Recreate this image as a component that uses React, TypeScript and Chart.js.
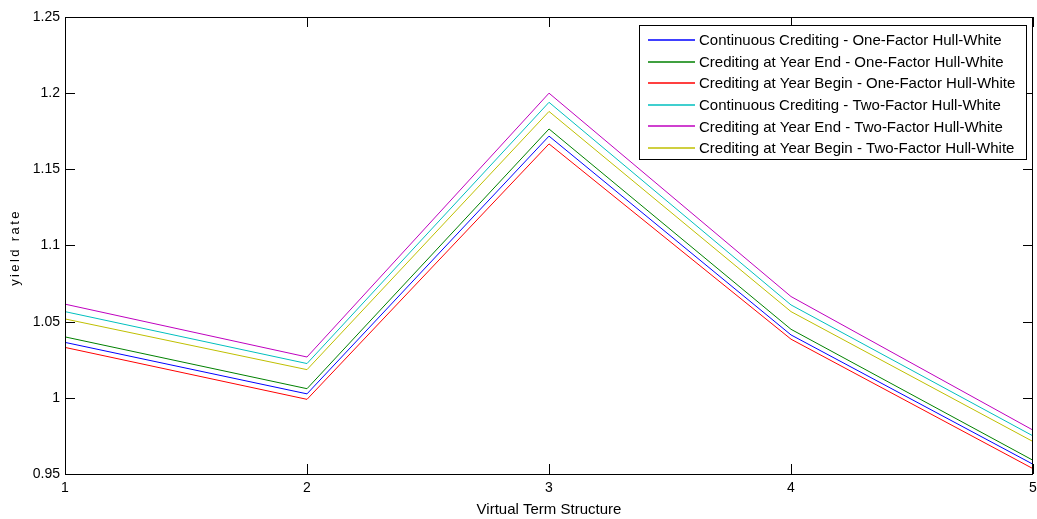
import React, { useEffect, useRef } from 'react';
import { Chart, registerables, Plugin } from 'chart.js';

Chart.register(...registerables);

const termPoints = [1, 2, 3, 4, 5];
const yTicks = [0.95, 1, 1.05, 1.1, 1.15, 1.2, 1.25];

const contOneFactor = [1.0364, 1.0026, 1.1718, 1.0413, 0.9564];
const endOneFactor = [1.040, 1.006, 1.1765, 1.045, 0.959];
const beginOneFactor = [1.0331, 0.999, 1.1667, 1.0385, 0.9535];
const contTwoFactor = [1.0566, 1.0225, 1.194, 1.061, 0.975];
const endTwoFactor = [1.0615, 1.0268, 1.2, 1.0665, 0.9788];
const beginTwoFactor = [1.0518, 1.0185, 1.188, 1.0566, 0.9713];

const seriesNames = [
    'Continuous Crediting - One-Factor Hull-White',
    'Crediting at Year End - One-Factor Hull-White',
    'Crediting at Year Begin - One-Factor Hull-White',
    'Continuous Crediting - Two-Factor Hull-White',
    'Crediting at Year End - Two-Factor Hull-White',
    'Crediting at Year Begin - Two-Factor Hull-White',
];
const seriesValues = [contOneFactor, endOneFactor, beginOneFactor, contTwoFactor, endTwoFactor, beginTwoFactor];
const seriesColors = ['#0000ff', '#008000', '#ff0000', '#00bfbf', '#bf00bf', '#bfbf00'];

const FONT = '"Liberation Sans", Arial, sans-serif';

// matlab style box with inward ticks
const boxPlugin: Plugin<'line'> = {
    id: 'matlabBox',
    afterDatasetsDraw(chart) {
        const { ctx, chartArea: a } = chart;
        const xs = chart.scales.x;
        const ys = chart.scales.y;
        ctx.save();
        ctx.strokeStyle = '#000';
        ctx.lineWidth = 1;
        ctx.strokeRect(Math.round(a.left) + 0.5, Math.round(a.top) + 0.5,
            Math.round(a.right - a.left) - 1, Math.round(a.bottom - a.top));
        const len = 10;
        ctx.beginPath();
        termPoints.forEach(t => {
            const px = Math.round(xs.getPixelForValue(t)) + 0.5;
            ctx.moveTo(px, a.bottom);
            ctx.lineTo(px, a.bottom - len);
            ctx.moveTo(px, a.top);
            ctx.lineTo(px, a.top + len);
        });
        yTicks.forEach(v => {
            const py = Math.round(ys.getPixelForValue(v)) + 0.5;
            ctx.moveTo(a.left, py);
            ctx.lineTo(a.left + len, py);
            ctx.moveTo(a.right, py);
            ctx.lineTo(a.right - len, py);
        });
        ctx.stroke();

        // y axis title, spaced out like the original
        ctx.fillStyle = '#000';
        ctx.font = `13px ${FONT}`;
        (ctx as any).letterSpacing = '2.4px';
        ctx.textAlign = 'center';
        ctx.textBaseline = 'middle';
        ctx.translate(15, (a.top + a.bottom) / 2 + 2);
        ctx.rotate(-Math.PI / 2);
        ctx.fillText('yield rate', 0, 0);
        ctx.restore();
    },
};

const legendPlugin: Plugin<'line'> = {
    id: 'boxLegend',
    afterDraw(chart) {
        const { ctx } = chart;
        const left = 639.5, top = 25.5, w = 387, h = 134;
        ctx.save();
        ctx.fillStyle = '#fff';
        ctx.fillRect(left, top, w, h);
        ctx.strokeStyle = '#000';
        ctx.lineWidth = 1;
        ctx.strokeRect(left, top, w, h);
        ctx.font = `15px ${FONT}`;
        ctx.textBaseline = 'middle';
        ctx.textAlign = 'left';
        seriesNames.forEach((name, i) => {
            const y = 40 + i * 21.6;
            ctx.strokeStyle = seriesColors[i];
            ctx.lineWidth = 1.3;
            ctx.beginPath();
            ctx.moveTo(648, Math.round(y));
            ctx.lineTo(695, Math.round(y));
            ctx.stroke();
            ctx.fillStyle = '#000';
            ctx.fillText(name, 699, y + 1);
        });
        ctx.restore();
    },
};

const App: React.FC = () => {
    const canvasRef = useRef<HTMLCanvasElement>(null);

    useEffect(() => {
        if (!canvasRef.current) return;
        const ctx = canvasRef.current.getContext('2d');
        if (!ctx) return;

        const chart = new Chart(ctx, {
            type: 'line',
            data: {
                datasets: seriesNames.map((name, i) => ({
                    label: name,
                    data: termPoints.map((t, j) => ({ x: t, y: seriesValues[i][j] })),
                    borderColor: seriesColors[i],
                    backgroundColor: seriesColors[i],
                    borderWidth: 1,
                    pointRadius: 0,
                    tension: 0,
                })),
            },
            options: {
                responsive: false,
                animation: false,
                layout: { padding: { top: 17, right: 4, left: 0, bottom: 0 } },
                plugins: {
                    legend: { display: false },
                    tooltip: { enabled: false },
                },
                scales: {
                    x: {
                        type: 'linear',
                        min: 1,
                        max: 5,
                        afterFit: (s: any) => { s.height = 45; s.paddingRight = 0; s.paddingLeft = 0; },
                        grid: { display: false, drawTicks: false },
                        border: { display: false },
                        ticks: {
                            stepSize: 1,
                            padding: 6,
                            color: '#000',
                            font: { family: FONT, size: 14 },
                            callback: (v: any) => String(v),
                        },
                        title: {
                            display: true,
                            text: 'Virtual Term Structure',
                            color: '#000',
                            font: { family: FONT, size: 15 },
                            padding: { top: 0, bottom: 0 },
                        },
                    },
                    y: {
                        min: 0.95,
                        max: 1.25,
                        afterFit: (s: any) => { s.width = 65; s.paddingTop = 0; s.paddingBottom = 0; },
                        afterBuildTicks: (s: any) => { s.ticks = yTicks.map(v => ({ value: v })); },
                        grid: { display: false, drawTicks: false },
                        border: { display: false },
                        ticks: {
                            padding: 5,
                            color: '#000',
                            font: { family: FONT, size: 14 },
                            callback: (v: any) => String(Number(Number(v).toFixed(2))),
                        },
                    },
                },
            },
            plugins: [boxPlugin, legendPlugin],
        });

        return () => {
            chart.destroy();
        };
    }, []);

    return (
        <div style={{ position: 'absolute', left: 0, top: 0, width: 1037, height: 519, background: '#fff' }}>
            <canvas ref={canvasRef} width={1037} height={519}></canvas>
        </div>
    );
};

export default App;
